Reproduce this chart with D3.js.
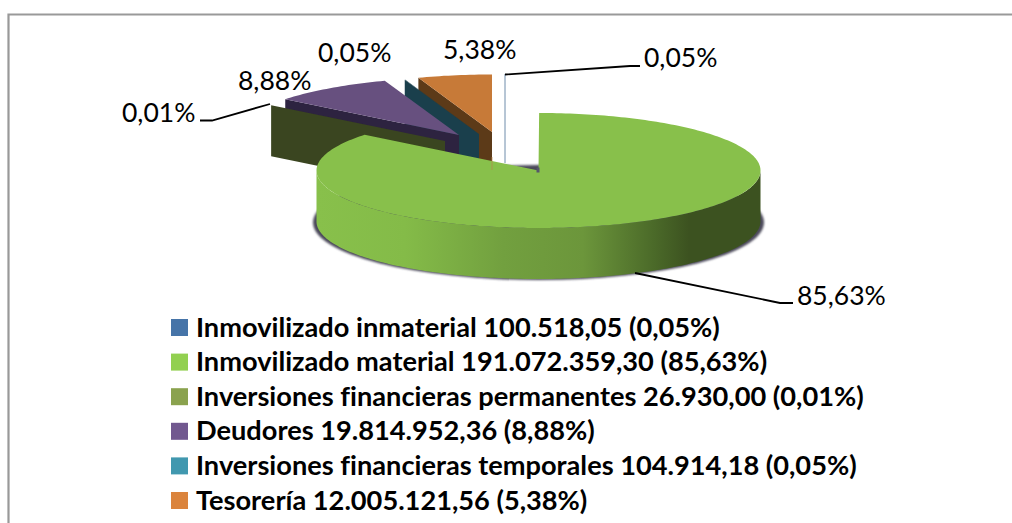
<!DOCTYPE html>
<html><head><meta charset="utf-8">
<script src="https://cdn.jsdelivr.net/npm/d3@7"></script>
<style>html,body{margin:0;padding:0;background:#fff;overflow:hidden}svg{display:block}text{font-family:Lato,"Open Sans",sans-serif;fill:#000;font-variant-ligatures:none}</style>
</head><body><svg id="c" width="1012" height="523"></svg>
<script>
const categories = ["Inmovilizado inmaterial","Inmovilizado material","Inversiones financieras permanentes","Deudores","Inversiones financieras temporales","Tesorería"];
const values = [100518.05,191072359.30,26930.00,19814952.36,104914.18,12005121.56];
const valueLabels = ["100.518,05","191.072.359,30","26.930,00","19.814.952,36","104.914,18","12.005.121,56"];
const percentLabels = ["0,05%","85,63%","0,01%","8,88%","0,05%","5,38%"];
const swatchColors = ["#4674a8","#92d050","#8aa24e","#71588f","#4198af","#db843d"];
const topColors = ["#ffffff","#88c04b","#3a4520","#67507f","#1a3f4c","#c77a38"];
const wallColors = ["#ffffff","#88c04b","#3a4520","#2d2340","#1a3f4c","#5c3a18"];

const svg = d3.select("#c");
const rx = 222, ry = 57.5, depth = 51;
// where each slice's apex ended up after the explosion in the reference
const apexes = [[505,168],[538.5,170.5],[445,141],[459,135],[479,134],[492,132]];
const slices = d3.pie().sort(null).value(d=>d)(values);
const pt = (a,c,dy=0)=>[c[0]+rx*Math.sin(a), c[1]-ry*Math.cos(a)+dy];
const line = d3.line();
const arcPts = (a0,a1,c,dy=0)=>{
  const n = Math.max(2,Math.ceil(Math.abs(a1-a0)/0.02));
  return d3.range(n+1).map(i=>pt(a0+(a1-a0)*i/n,c,dy));
};
const defs = svg.append("defs");
const grad = defs.append("linearGradient").attr("id","wall").attr("gradientUnits","userSpaceOnUse")
  .attr("x1",317).attr("x2",760).attr("y1",0).attr("y2",0);
[[0,"#88c04b"],[0.2,"#84bb48"],[0.42,"#72a03f"],[0.6,"#6c963b"],[0.76,"#4b6a29"],[0.84,"#3c5220"],[1,"#3c5220"]]
  .forEach(s=>grad.append("stop").attr("offset",s[0]).attr("stop-color",s[1]));
defs.append("filter").attr("id","soft").append("feGaussianBlur").attr("stdDeviation",0.8);

// frame
svg.append("path").attr("d","M8.5,523V14.5H1012").attr("fill","none").attr("stroke","#999").attr("stroke-width",2.2);

const pie = svg.append("g");
// back to front: Tesorería, temporales, Deudores, permanentes
[5,4,3,2].forEach(i=>{
  const s = slices[i], c = apexes[i];
  const a0 = s.startAngle, a1 = s.endAngle;
  const g = pie.append("g");
  g.append("path").attr("fill",wallColors[i]).attr("d",
    line([pt(a0,c),c,[c[0],c[1]+depth],pt(a0,c,depth)])+"Z");
  g.append("path").attr("fill",topColors[i]).attr("d",
    line([c,...arcPts(a0,a1,c)])+"Z");
});
// Inmovilizado inmaterial: hairline slice
{
  const c = apexes[0];
  pie.append("path").attr("fill","none").attr("stroke","#6f8cab").attr("stroke-width",1)
    .attr("d",line([[c[0],c[1]-94],[c[0],c[1]-5]]));
}
// Inmovilizado material
{
  const s = slices[1], c = apexes[1];
  pie.append("ellipse").attr("cx",c[0]).attr("cy",c[1]+depth+1).attr("rx",rx+3.5).attr("ry",ry)
    .attr("fill","#4b4a5a").attr("filter","url(#soft)");
  pie.append("path").attr("fill","url(#wall)").attr("d",
    line([...arcPts(Math.PI/2,3*Math.PI/2,c),...arcPts(3*Math.PI/2,Math.PI/2,c,depth)])+"Z");
  pie.append("path").attr("fill",topColors[1]).attr("d",
    line([c,...arcPts(s.startAngle,s.endAngle,c)])+"Z");
  pie.append("rect").attr("x",c[0]-2).attr("y",c[1]-3).attr("width",3).attr("height",5).attr("fill","#55566a");
  pie.append("path").attr("fill","none").attr("stroke","#b9874f").attr("stroke-width",0.7).attr("d",line([[492,157],[492,170]]));
}

// leader lines
const leaders = [
  [[200,120.5],[212,120.5],[270,104]],
  [[505,74.5],[630,66],[640,66]],
  [[635,273],[780,303],[793,303]]
];
svg.append("g").selectAll("path").data(leaders).join("path")
  .attr("d",d=>line(d)).attr("fill","none").attr("stroke","#000").attr("stroke-width",1.8);

// data labels
const labelPos = [[644,67],[797,305],[122,122],[238,90],[318,62],[443,59]];
svg.append("g").selectAll("text").data(percentLabels).join("text")
  .attr("x",(d,i)=>labelPos[i][0]).attr("y",(d,i)=>labelPos[i][1])
  .attr("font-size",26.5).text(d=>d);

// legend
const legendY = d3.scalePoint().domain(d3.range(categories.length)).range([319,492]);
const leg = svg.append("g").selectAll("g").data(categories).join("g");
leg.append("rect").attr("x",171).attr("y",(d,i)=>legendY(i)).attr("width",17).attr("height",17)
  .attr("fill",(d,i)=>swatchColors[i]);
leg.append("text").attr("x",196).attr("y",(d,i)=>legendY(i)+17.5)
  .attr("font-size",27.2).attr("font-weight",700)
  .text((d,i)=>`${d} ${valueLabels[i]} (${percentLabels[i]})`);
</script></body></html>
